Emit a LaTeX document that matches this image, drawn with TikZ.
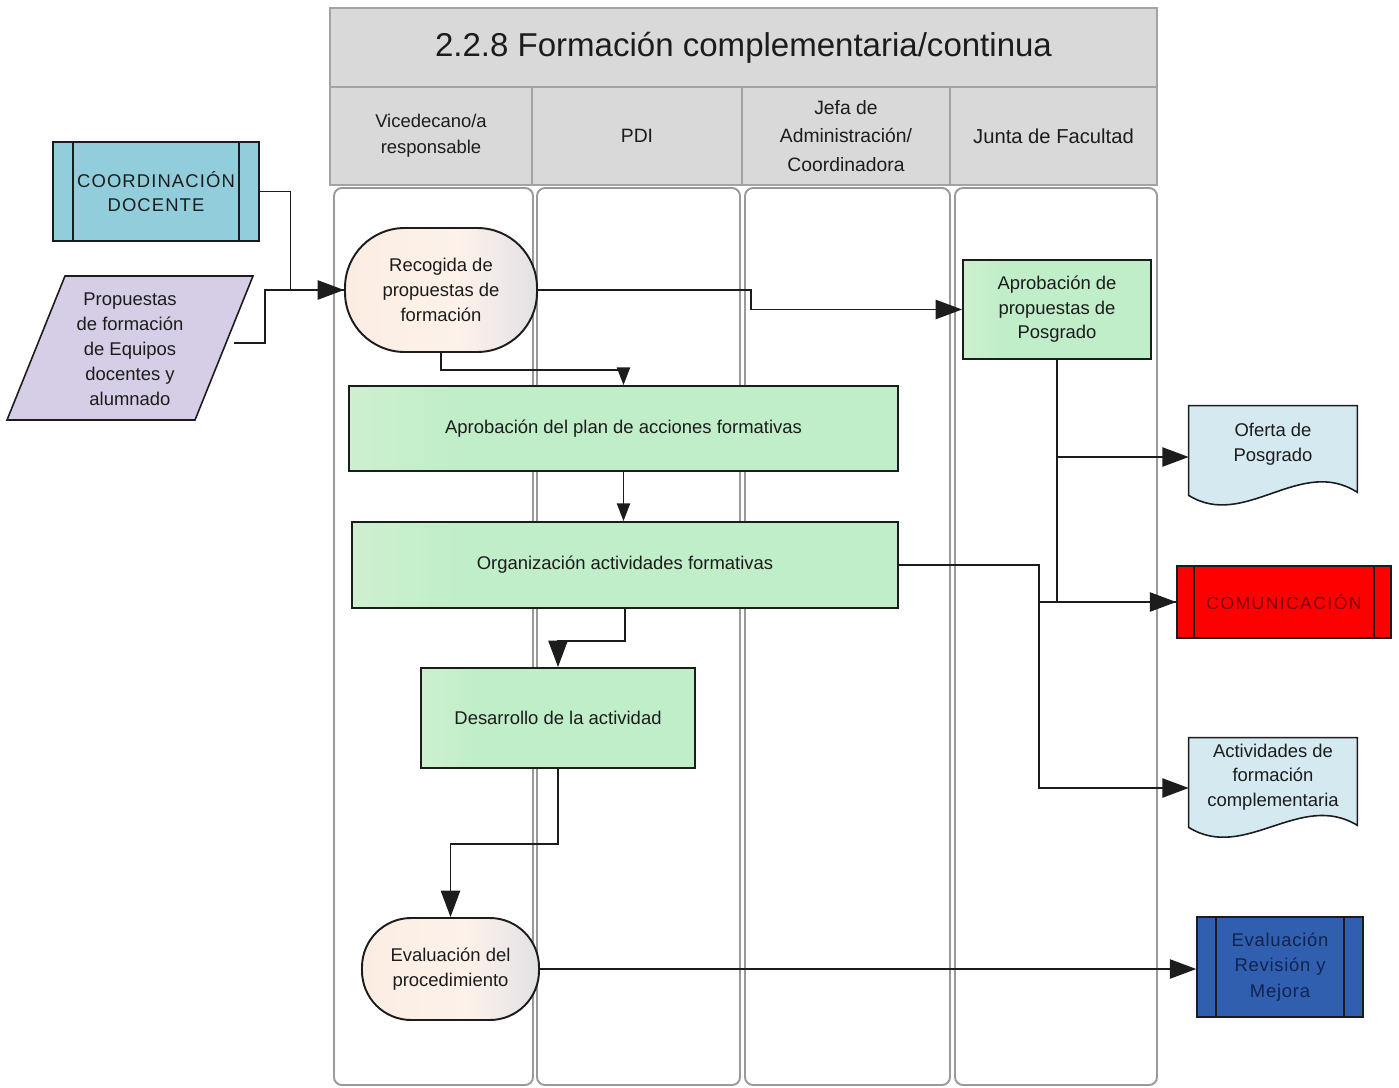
\documentclass[tikz,border=0pt]{standalone}
\usepackage{fontspec}
\setmainfont{Liberation Sans}
\usetikzlibrary{arrows.meta,calc}

\definecolor{hdrfill}{HTML}{D9D9D9}
\definecolor{hdrline}{HTML}{A3A3A3}
\definecolor{laneline}{HTML}{9A9A9A}
\definecolor{greenL}{HTML}{F2F3E3}
\definecolor{greenR}{HTML}{C0EEC8}
\definecolor{peach}{HTML}{FBE9DC}
\definecolor{steel}{HTML}{C3CCDF}
\definecolor{tealbox}{HTML}{92CDDC}
\definecolor{lavender}{HTML}{D6CEE6}
\definecolor{docblue}{HTML}{D5E9F1}
\definecolor{commred}{HTML}{FF0000}
\definecolor{commtext}{HTML}{7A0000}
\definecolor{evalblue}{HTML}{2F5FAE}
\definecolor{evaltext}{HTML}{10244F}
\definecolor{ink}{HTML}{1C1C1C}

% cream-to-green fill of the task boxes, peach-to-steel fill of the terminators
\pgfdeclarehorizontalshading{taskshade}{100bp}{color(0bp)=(greenL); color(35bp)=(greenR); color(100bp)=(greenR)}
\pgfdeclarehorizontalshading{termshade}{100bp}{color(0bp)=(peach); color(55bp)=(peach!60!white); color(100bp)=(steel)}

\newcommand\fsz[2]{\fontsize{#1}{#2}\selectfont}
\newcommand\pxl{0.02cm}

\begin{document}
\begin{tikzpicture}[x=0.02cm, y=-0.02cm,
  sized/.style 2 args={minimum width=#1*\pxl, minimum height=#2*\pxl},
  hdr/.style={draw=hdrline, fill=hdrfill, line width=1pt, inner sep=0pt,
    align=center, text=ink},
  lane/.style={draw=laneline, line width=1.1pt, rounded corners=4.5pt},
  task/.style={draw=ink, line width=1.1pt, shading=taskshade,
    inner sep=0pt, align=center, text=ink, font=\fsz{10.5}{14}},
  term/.style={draw=ink, line width=1.1pt, shading=termshade,
    inner sep=0pt, align=center, text=ink, font=\fsz{10.5}{14}},
  proc/.style={draw=ink, line width=0.9pt, inner sep=0pt, align=center},
  docshape/.style={draw=ink, line width=0.9pt, fill=docblue},
  doctext/.style={align=center, text=ink, font=\fsz{10.5}{14}},
  flow/.style={draw=ink, line width=0.8pt},
  bigarr/.style={flow, -{Triangle[length=15pt,width=11pt]}},
  smallarr/.style={flow, -{Triangle[length=10pt,width=7.5pt]}}
]
\useasboundingbox (0,0) rectangle (1399,1088);

% title and lane headers
\node[hdr, sized={827}{79}, font=\fsz{18.8}{22}] (title) at (743.5,47.5)
  {2.2.8 Formación complementaria/continua};
\node[hdr, sized={202}{98}, font=\fsz{10.5}{15}] (h1) at (431,136)
  {Vicedecano/a\\responsable};
\node[hdr, sized={210}{98}, font=\fsz{11}{16}] (h2) at (637,136) {PDI};
\node[hdr, sized={208}{98}, font=\fsz{11}{16}] (h3) at (846,136)
  {Jefa de\\Administración/\\Coordinadora};
\node[hdr, sized={207}{98}, font=\fsz{11.5}{16}] (h4) at (1053.5,136)
  {Junta de Facultad};

% swimlanes
\draw[lane] (334,188) rectangle (533,1085);
\draw[lane] (537,188) rectangle (740,1085);
\draw[lane] (745,188) rectangle (950,1085);
\draw[lane] (955,188) rectangle (1157,1085);

% external inputs
\node[proc, fill=tealbox, text=ink, sized={206}{99},
  font=\fsz{10.5}{13.8}\addfontfeature{LetterSpace=6}] (coord) at (156,191.5)
  {COORDINACIÓN\\DOCENTE};
\draw[ink, line width=0.9pt] ($(coord.north west)+(21,0)$) -- ($(coord.south west)+(21,0)$)
  ($(coord.north east)+(-21,0)$) -- ($(coord.south east)+(-21,0)$);

\filldraw[draw=ink, line width=0.9pt, fill=lavender]
  (65,276) -- (253,276) -- (195,420) -- (7,420) -- cycle;
\node[align=center, text=ink, font=\fsz{10.5}{14.2}] (prop) at (130,349)
  {Propuestas\\de formación\\de Equipos\\docentes y\\alumnado};
\coordinate (propR) at (234,343);

% process steps
\node[term, sized={192}{124}, rounded corners=34pt] (rec) at (441,290)
  {Recogida de\\propuestas de\\formación};
\node[task, sized={188}{99}] (apos) at (1057,309.5)
  {Aprobación de\\propuestas de\\Posgrado};
\node[task, sized={549}{85}] (plan) at (623.5,428.5)
  {Aprobación del plan de acciones formativas};
\node[task, sized={546}{86}] (org) at (625,565)
  {Organización actividades formativas};
\node[task, sized={274}{100}] (des) at (558,718)
  {Desarrollo de la actividad};
\node[term, sized={177}{102}, rounded corners=28pt] (evp) at (450.5,969)
  {Evaluación del\\procedimiento};

% outputs
\node[sized={168}{102}, inner sep=0pt] (ofe) at (1273,457) {};
\filldraw[docshape] (ofe.north west) -- (ofe.north east) -- ($(ofe.south east)+(0,-16)$)
  .. controls ($(ofe.south east)+(-57,-53)$) and ($(ofe.south west)+(56,22)$)
  .. ($(ofe.south west)+(0,-13)$) -- cycle;
\node[doctext] (ofeT) at ($(ofe.center)+(0,-13)$) {Oferta de\\Posgrado};

\node[proc, fill=commred, text=commtext, sized={214}{72},
  font=\fsz{10}{14}\addfontfeature{LetterSpace=8}] (comm) at (1284,602) {COMUNICACIÓN};
\draw[ink, line width=0.9pt] ($(comm.north west)+(18,0)$) -- ($(comm.south west)+(18,0)$)
  ($(comm.north east)+(-18,0)$) -- ($(comm.south east)+(-18,0)$);

\node[sized={168}{100}, inner sep=0pt] (act) at (1273,788) {};
\filldraw[docshape] (act.north west) -- (act.north east) -- ($(act.south east)+(0,-13)$)
  .. controls ($(act.south east)+(-57,-48)$) and ($(act.south west)+(56,24)$)
  .. ($(act.south west)+(0,-11)$) -- cycle;
\node[doctext] (actT) at ($(act.center)+(0,-11)$)
  {Actividades de\\formación\\complementaria};

\node[proc, fill=evalblue, text=evaltext, sized={166}{100},
  font=\fsz{10.5}{14.5}\addfontfeature{LetterSpace=4}] (erm) at (1280,967)
  {Evaluación\\Revisión y\\Mejora};
\draw[ink, line width=0.9pt] ($(erm.north west)+(20,0)$) -- ($(erm.south west)+(20,0)$)
  ($(erm.north east)+(-20,0)$) -- ($(erm.south east)+(-20,0)$);

% connectors
\draw[bigarr] (coord.east) -- ++(31,0) |- (rec.west);
\draw[flow] (propR) -- ++(31,0) |- (rec.west);
\draw[bigarr] (rec.east) -- ++(213,0) |- (apos.west);
\draw[smallarr] (rec.south) -- ++(0,17) -| (plan.north);
\draw[smallarr] (plan.south) -- (plan.south |- org.north);
\draw[bigarr] (org.south) -- ++(0,32) -| (des.north);
\draw[bigarr] (des.south) -- ++(0,75) -| (evp.north);
\draw[bigarr] (evp.east) -- (evp.east -| erm.west);
\draw[bigarr] (apos.south) |- (comm.west);
\draw[bigarr] (apos.south |- ofe.west) -- (ofe.west);
\draw[bigarr] (org.east) -- ++(140,0) |- (act.west);
\draw[flow] ($(org.east)+(140,0)$) |- (comm.west);
\end{tikzpicture}
\end{document}
